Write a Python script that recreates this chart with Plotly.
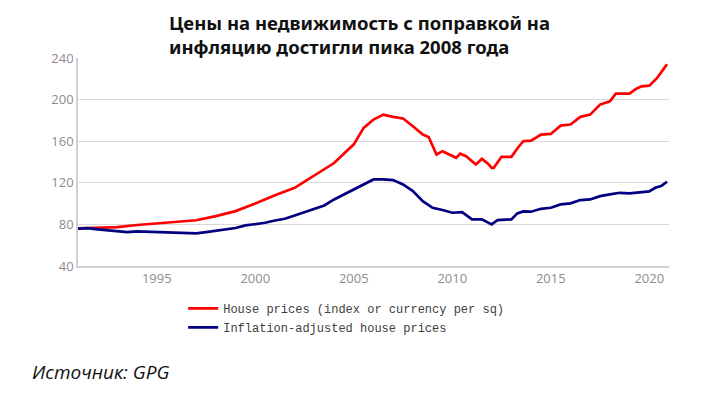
import plotly.graph_objects as go

# Nominal house prices (index)
red_x = [1991.0, 1992.0, 1993.0, 1994.0, 1995.0, 1996.0, 1997.0, 1998.0, 1999.0, 2000.0,
         2001.0, 2002.0, 2003.0, 2004.0, 2005.0, 2005.5, 2006.0, 2006.5, 2007.0, 2007.5,
         2008.0, 2008.5, 2008.8, 2009.0, 2009.2, 2009.5, 2010.0, 2010.2, 2010.4, 2010.7,
         2011.0, 2011.2, 2011.5, 2011.8, 2012.0, 2012.1, 2012.5, 2013.0, 2013.3, 2013.6,
         2014.0, 2014.5, 2015.0, 2015.5, 2016.0, 2016.5, 2017.0, 2017.5, 2018.0, 2018.3,
         2018.8, 2019.0, 2019.3, 2019.6, 2020.0, 2020.4, 2020.7, 2020.9]
red_y = [76.2, 76.5, 77.4, 79.4, 81.0, 82.0, 84.0, 88.0, 92.8, 100.0,
         108.0, 115.2, 127.0, 139.0, 157.0, 172.8, 180.8, 185.6, 183.4, 181.8,
         174.4, 166.4, 164.0, 155.0, 147.2, 150.4, 145.6, 144.0, 148.0, 145.6,
         140.8, 137.6, 143.0, 138.6, 134.4, 134.4, 145.0, 145.0, 153.0, 160.0,
         160.6, 166.4, 167.0, 175.0, 176.0, 183.4, 185.6, 195.2, 198.4, 205.8,
         205.8, 205.8, 210.0, 212.8, 213.4, 220.8, 228.8, 234.0]

# Inflation-adjusted house prices
blue_x = [1991.0, 1991.5, 1992.0, 1993.0, 1993.5, 1994.0, 1995.0, 1996.0, 1996.5, 1997.0,
          1997.5, 1998.0, 1998.5, 1999.0, 1999.5, 2000.0, 2000.5, 2001.0, 2001.5, 2002.0,
          2002.5, 2003.0, 2003.5, 2004.0, 2004.5, 2005.0, 2005.5, 2006.0, 2006.5, 2007.0,
          2007.5, 2008.0, 2008.5, 2009.0, 2009.5, 2010.0, 2010.5, 2011.0, 2011.5, 2011.8,
          2012.0, 2012.3, 2013.0, 2013.3, 2013.6, 2014.0, 2014.5, 2015.0, 2015.5, 2016.0,
          2016.5, 2017.0, 2017.5, 2018.0, 2018.5, 2019.0, 2019.5, 2020.0, 2020.3, 2020.6, 2020.9]
blue_y = [75.8, 76.5, 75.2, 73.6, 72.6, 73.3, 72.6, 72.0, 71.4, 71.4,
          72.6, 73.9, 75.8, 76.5, 79.0, 80.0, 81.6, 83.8, 85.4, 88.6,
          91.8, 94.4, 98.2, 104.0, 108.8, 113.5, 118.4, 123.2, 123.2, 122.6,
          118.4, 112.0, 102.4, 96.0, 93.8, 91.2, 91.8, 84.8, 84.8, 81.6,
          80.0, 84.2, 84.8, 90.6, 92.5, 92.2, 95.0, 96.0, 99.2, 100.2,
          103.4, 104.0, 107.2, 108.8, 110.4, 109.8, 111.0, 111.7, 115.2, 116.8, 121.0]

x_ticks = [1995, 2000, 2005, 2010, 2015, 2020]
y_ticks = [40, 80, 120, 160, 200, 240]

title_lines = ["Цены на недвижимость с поправкой на", "инфляцию достигли пика 2008 года"]
source_text = "Источник: GPG"

fig = go.Figure()
fig.add_trace(go.Scatter(x=red_x, y=red_y, mode="lines", name="House prices (index or currency per sq)",
                         line=dict(color="#ff0000", width=2.7)))
fig.add_trace(go.Scatter(x=blue_x, y=blue_y, mode="lines", name="Inflation-adjusted house prices",
                         line=dict(color="#000080", width=2.7)))

# page has an 8px body margin, so the figure is 8px smaller and offsets are reduced by 8
fig.update_layout(
    width=696, height=387,
    margin=dict(l=70, r=35, t=50, b=129),
    paper_bgcolor="white", plot_bgcolor="white",
    showlegend=True,
    legend=dict(x=0.178, y=-0.134, xanchor="left", yanchor="top", orientation="v",
                font=dict(family="Liberation Mono", size=12, color="#404040"),
                itemwidth=30, bgcolor="rgba(0,0,0,0)", tracegroupgap=0),
    xaxis=dict(range=[1991, 2021], tickvals=x_ticks, ticktext=[str(v) for v in x_ticks],
               showgrid=False, zeroline=False, showline=True, linecolor="#d0d0d0", linewidth=1.5,
               ticks="", tickfont=dict(family="Open Sans", size=13, color="#8c8c8c")),
    yaxis=dict(range=[40, 240], tickvals=y_ticks, ticktext=[str(v) for v in y_ticks],
               showgrid=True, gridcolor="#d9d9d9", gridwidth=1, zeroline=False,
               showline=True, linecolor="#d0d0d0", linewidth=1.5, ticks="",
               tickfont=dict(family="Open Sans", size=13, color="#8c8c8c")),
)

fig.add_annotation(text="<b>" + title_lines[0] + "<br>" + title_lines[1] + "</b>",
                   xref="paper", yref="paper", x=(167 - 78) / 591, y=1.0 + (58 - 8) / 208,
                   xanchor="left", yanchor="top", align="left", showarrow=False,
                   font=dict(family="Noto Sans", size=18.5, color="#111111"))
fig.add_annotation(text="<i>" + source_text + "</i>",
                   xref="paper", yref="paper", x=(30 - 78) / 591, y=-(372 - 266) / 208,
                   xanchor="left", yanchor="middle", align="left", showarrow=False,
                   font=dict(family="Open Sans", size=19, color="#111111"))

fig.write_html("out.html")
